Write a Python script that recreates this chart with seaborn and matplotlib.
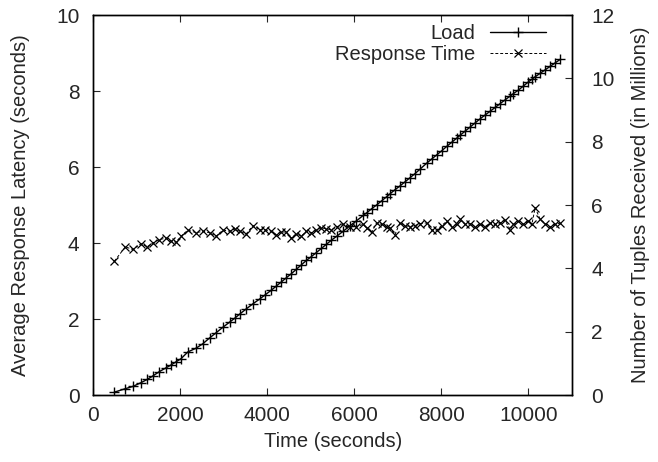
import matplotlib
matplotlib.use("Agg")
import matplotlib.pyplot as plt
import seaborn as sns

# Sample times (seconds)
time_s = [483, 737, 906, 1097, 1236, 1366, 1520, 1673, 1788, 1903,
          2018, 2172, 2364, 2517, 2671, 2825, 2978, 3131, 3246, 3360,
          3515, 3668, 3822, 3937, 4090, 4205, 4320, 4435, 4550, 4666,
          4781, 4896, 5011, 5126, 5242, 5357, 5472, 5600, 5741, 5894,
          6048, 6201, 6279, 6394, 6509, 6624, 6739, 6816, 6930, 7046,
          7161, 7276, 7391, 7506, 7660, 7774, 7889, 8004, 8121, 8235,
          8350, 8427, 8542, 8657, 8772, 8887, 9002, 9118, 9233, 9348,
          9462, 9578, 9655, 9770, 9885, 10000, 10077, 10154, 10269, 10384,
          10500, 10615, 10730]

# Average response latency (seconds), left axis
response_time = [3.52, 3.90, 3.83, 3.98, 3.90, 4.00, 4.09, 4.13, 4.05, 4.02,
                 4.18, 4.34, 4.27, 4.31, 4.27, 4.18, 4.34, 4.31, 4.37, 4.31,
                 4.24, 4.46, 4.35, 4.35, 4.31, 4.22, 4.29, 4.29, 4.13, 4.24,
                 4.18, 4.31, 4.27, 4.34, 4.40, 4.37, 4.35, 4.43, 4.49, 4.43,
                 4.43, 4.49, 4.40, 4.28, 4.53, 4.49, 4.43, 4.40, 4.22, 4.53,
                 4.46, 4.43, 4.46, 4.51, 4.53, 4.34, 4.34, 4.46, 4.57, 4.43,
                 4.49, 4.63, 4.49, 4.51, 4.43, 4.49, 4.43, 4.53, 4.49, 4.53,
                 4.60, 4.35, 4.49, 4.57, 4.49, 4.57, 4.49, 4.93, 4.62, 4.51,
                 4.42, 4.49, 4.53]

# Tuples received (millions), right axis
load_millions = [0.09, 0.20, 0.27, 0.39, 0.49, 0.60, 0.74, 0.86, 0.95, 1.05,
                 1.15, 1.36, 1.48, 1.62, 1.80, 1.97, 2.14, 2.30, 2.42, 2.55,
                 2.72, 2.88, 3.03, 3.15, 3.31, 3.44, 3.57, 3.70, 3.83, 3.97,
                 4.11, 4.25, 4.37, 4.50, 4.63, 4.76, 4.89, 5.02, 5.17, 5.34,
                 5.50, 5.67, 5.75, 5.88, 6.00, 6.13, 6.26, 6.35, 6.48, 6.60,
                 6.73, 6.86, 6.99, 7.13, 7.32, 7.45, 7.58, 7.71, 7.85, 7.98,
                 8.11, 8.20, 8.33, 8.46, 8.59, 8.72, 8.84, 8.96, 9.08, 9.20,
                 9.32, 9.44, 9.52, 9.63, 9.76, 9.89, 9.97, 10.05, 10.16, 10.27,
                 10.38, 10.49, 10.60]

x_ticks = [0, 2000, 4000, 6000, 8000, 10000]
left_ticks = [0, 2, 4, 6, 8, 10]
right_ticks = [0, 2, 4, 6, 8, 10, 12]

sns.set_style("ticks")
plt.rcParams['font.family'] = ['Liberation Sans', 'DejaVu Sans']

fig, ax = plt.subplots(figsize=(6.58, 4.62), dpi=100)
fig.subplots_adjust(left=0.1418, right=0.8693, bottom=0.145, top=0.9675)
ax2 = ax.twinx()

# Load on the right axis, response time on the left
sns.lineplot(x=time_s, y=load_millions, ax=ax2, color='black', linewidth=1.0,
             marker='+', markersize=6.5, markeredgewidth=1.0, markeredgecolor='black',
             label='Load', legend=False)
sns.lineplot(x=time_s, y=response_time, ax=ax, color='black', linewidth=0.7,
             linestyle=(0, (3, 2)), marker='x', markersize=5.5, markeredgewidth=0.9,
             markeredgecolor='black', label='Response Time', legend=False)

ax.set_xlim(0, 11000)
ax.set_ylim(0, 10)
ax2.set_ylim(0, 12)
ax.set_xticks(x_ticks)
ax.set_yticks(left_ticks)
ax2.set_yticks(right_ticks)

ax.tick_params(axis='x', direction='in', top=True, length=5, width=0.8, labelsize=15, pad=8)
ax.tick_params(axis='y', direction='in', right=False, length=5, width=0.8, labelsize=15, pad=10)
ax2.tick_params(axis='y', direction='in', length=5, width=0.8, labelsize=15, pad=14)

for a in (ax, ax2):
    for s in a.spines.values():
        s.set_visible(True)
        s.set_linewidth(1.0)
        s.set_color('black')

ax.set_xlabel("Time (seconds)", fontsize=14.5, labelpad=5)
ax.set_ylabel("Average Response Latency (seconds)", fontsize=14.5, labelpad=19)
ax2.set_ylabel("Number of Tuples Received (in Millions)", fontsize=14.5, labelpad=12)

handles = ax2.get_lines()[:1] + ax.get_lines()[:1]
ax.legend(handles, ['Load', 'Response Time'], loc='upper right',
          bbox_to_anchor=(0.9456, 0.976), borderaxespad=0, borderpad=0,
          frameon=False, markerfirst=False, numpoints=1, handlelength=2.8,
          handletextpad=0.7, labelspacing=0.1, fontsize=14.5)

fig.savefig("out.png", dpi=100)
